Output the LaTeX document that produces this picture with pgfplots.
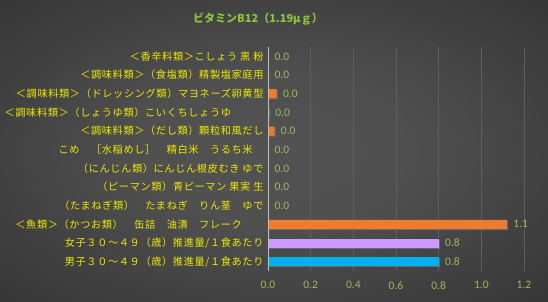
\documentclass[border=0pt]{standalone}
\usepackage{pgfplots}
\pgfplotsset{compat=1.18}
\usepackage{fontspec}
\setmainfont{Noto Sans CJK JP}
\newfontfamily\lblfont[LetterSpace=6]{Noto Sans CJK JP}
\newfontfamily\numfont{Carlito}
\usetikzlibrary{shadows}
\definecolor{bgin}{HTML}{525252}
\definecolor{bgout}{HTML}{262626}
\definecolor{lblyellow}{HTML}{EBEB00}
\definecolor{titlegreen}{HTML}{8CC63F}
\definecolor{numgreen}{HTML}{9BBB59}
\definecolor{gridgray}{HTML}{5E5E5E}
\definecolor{axgray}{HTML}{BFBFBF}
\definecolor{barorange}{HTML}{F07A30}
\definecolor{barpurple}{HTML}{CC99FF}
\definecolor{barblue}{HTML}{00B0F0}
\pgfdeclareradialshading{bgshade}{\pgfpoint{0bp}{0bp}}{color(0bp)=(bgin); color(12bp)=(bgin!95!bgout); color(50bp)=(bgout)}
\begin{document}
\begin{tikzpicture}[x=1pt,y=1pt]
\shade[shading=bgshade] (0,0) rectangle (548,302);
\node[font=\fontsize{11}{12}\selectfont\bfseries, text=titlegreen] at (258,283) {ビタミンB12（1.19μｇ）};
\begin{axis}[
  at={(268pt,31pt)}, anchor=south west,
  scale only axis, width=256pt, height=224pt,
  xmin=0, xmax=1.2, ymin=-0.5, ymax=11.5,
  y dir=reverse,
  xbar, bar width=9pt,
  axis line style={draw=none},
  major tick length=0pt,
  xmajorgrids, major grid style={color=gridgray, line width=0.6pt},
  xtick={0,0.2,0.4,0.6,0.8,1.0,1.2},
  ytick={0,1,2,3,4,5,6,7,8,9,10,11},
  yticklabels={
    ＜香辛料類＞こしょう 黒 粉,
    ＜調味料類＞（食塩類）精製塩家庭用,
    ＜調味料類＞（ドレッシング類）マヨネーズ卵黄型,
    ＜調味料類＞（しょうゆ類）こいくちしょうゆ　　　,
    ＜調味料類＞（だし類）顆粒和風だし,
    こめ　［水稲めし］　精白米　うるち米　,
    （にんじん類）にんじん根皮むき ゆで,
    （ピーマン類）青ピーマン 果実 生,
    （たまねぎ類）　たまねぎ　りん茎　ゆで,
    ＜魚類＞（かつお類）　缶詰　油漬　フレーク　　,
    女子３０～４９（歳）推進量/１食あたり,
    男子３０～４９（歳）推進量/１食あたり},
  yticklabel style={font=\lblfont\fontsize{10.2}{11}\selectfont, text=lblyellow, xshift=-1pt},
  xticklabel style={font=\numfont\fontsize{11.5}{12}\selectfont, text=numgreen, yshift=-7pt},
  /pgf/number format/.cd, fixed, fixed zerofill, precision=1, assume math mode=true,
  /pgfplots/.cd,
  nodes near coords,
  nodes near coords style={font=\numfont\fontsize{11.5}{12}\selectfont, text=numgreen, anchor=west, xshift=3pt,
    /pgf/number format/.cd, fixed, fixed zerofill, precision=1, assume math mode=true},
  clip=false,
]
\addplot[draw=none, fill=barorange, bar shift=0pt, drop shadow={shadow xshift=1.2pt, shadow yshift=-1.2pt, opacity=0.6}] coordinates {
 (0,0) (0,1) (0.04,2) (0.004,3) (0.03,4) (0,5) (0,6) (0,7) (0,8) (1.12,9)};
\addplot[draw=none, fill=barpurple, bar shift=0pt, drop shadow={shadow xshift=1.2pt, shadow yshift=-1.2pt, opacity=0.6}] coordinates {(0.8,10)};
\addplot[draw=none, fill=barblue, bar shift=0pt, drop shadow={shadow xshift=1.2pt, shadow yshift=-1.2pt, opacity=0.6}] coordinates {(0.8,11)};
\draw[axgray, line width=0.7pt] (axis cs:0,-0.5) -- (axis cs:0,11.5);
\end{axis}
\end{tikzpicture}
\end{document}
